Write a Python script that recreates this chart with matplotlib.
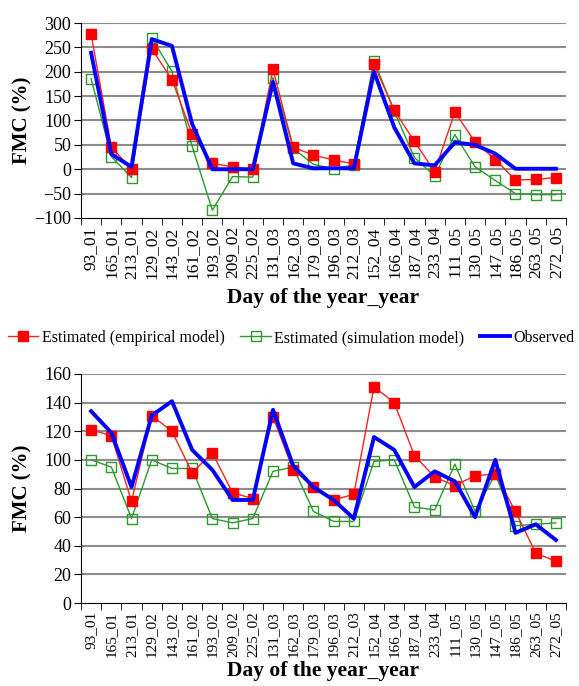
import matplotlib
matplotlib.use('Agg')
import matplotlib.pyplot as plt
import numpy as np
from matplotlib.lines import Line2D

plt.rcParams['font.family'] = ['Liberation Serif', 'DejaVu Serif']

days = ['93_01', '165_01', '213_01', '129_02', '143_02', '161_02', '193_02',
        '209_02', '225_02', '131_03', '162_03', '179_03', '196_03', '212_03',
        '152_04', '166_04', '187_04', '233_04', '111_05', '130_05', '147_05',
        '186_05', '263_05', '272_05']

# top panel
emp_top = [277, 46, 0, 247, 184, 72, 12, 5, 0, 205, 45, 29, 19, 11,
           215, 121, 57, -5, 117, 56, 20, -22, -21, -17]
sim_top = [186, 26, -17, 269, 201, 47, -84, -15, -16, 188, 43, 10, 1, 9,
           223, 119, 24, -14, 71, 5, -23, -50, -52, -52]
obs_top = [239, 31, 5, 267, 253, 93, 0, 0, 0, 179, 12, 2, 2, 2,
           200, 86, 12, 8, 55, 50, 32, 1, 1, 1]

# bottom panel
emp_bot = [121, 117, 71, 131, 120, 91, 105, 77, 73, 130, 93, 81, 72, 76,
           151, 140, 103, 88, 82, 89, 90, 64, 35, 29]
sim_bot = [100, 95, 59, 100, 94, 94, 59, 56, 59, 92, 95, 64, 57, 57,
           99, 100, 67, 65, 97, 64, 90, 54, 55, 56]
obs_bot = [134, 119, 81, 131, 141, 107, 93, 72, 72, 135, 96, 81, 72, 59,
           116, 107, 81, 92, 85, 60, 100, 49, 55, 44]

fig = plt.figure(figsize=(5.79, 6.86), dpi=100)
ax1 = fig.add_axes([81/579, 1-218/686, 485/579, 195/686])
ax2 = fig.add_axes([81/579, 1-603/686, 485/579, 229/686])

x = np.arange(len(days))
grid_c = '#8c8c8c'


def draw(ax, emp, sim, obs, ylim, step, tfs, xlab_y):
    for yv in np.arange(ylim[0] + step, ylim[1] + 0.1, step):
        ax.axhline(yv, color=grid_c, lw=1.5, zorder=0)
    ax.plot(x, emp, '-s', color='#ff2020', lw=1, ms=7.5,
            mfc='#ff0000', mec='#ff0000', zorder=3)
    ax.plot(x, sim, '-s', color='#2a9a2a', lw=1, ms=7.5,
            mfc='none', mec='#2a9a2a', mew=1, zorder=2)
    ax.plot(x, obs, '-', color='#0000ff', lw=2.8, zorder=4)
    ax.set_xlim(-0.5, len(days) - 0.5)
    ax.set_ylim(*ylim)
    ax.set_yticks(np.arange(ylim[0], ylim[1] + 0.1, step))
    ax.set_xticks(x)
    ax.set_xticklabels(days, rotation=90, fontsize=tfs)
    ax.set_xticks(np.arange(-0.5, len(days)), minor=True)
    ax.tick_params(axis='x', which='major', length=0, pad=6)
    ax.tick_params(axis='x', which='minor', length=5, direction='out')
    ax.tick_params(axis='y', length=5, direction='out', labelsize=13, pad=2)
    for s in ['top', 'right']:
        ax.spines[s].set_visible(False)
    ax.set_ylabel('FMC (%)', fontsize=15, fontweight='bold')
    ax.yaxis.set_label_coords(-0.101, 0.5)
    ax.set_xlabel('Day of the year_year', fontsize=15.5, fontweight='bold')
    ax.xaxis.set_label_coords(0.5, xlab_y)


draw(ax1, emp_top, sim_top, obs_top, (-100, 300), 50, 12.5, -0.36)
draw(ax2, emp_bot, sim_bot, obs_bot, (0, 160), 20, 11, -0.255)

handles = [Line2D([], [], color='#ff2020', lw=1, marker='s', ms=7.5,
                  mfc='#ff0000', mec='#ff0000'),
           Line2D([], [], color='#2a9a2a', lw=1, marker='s', ms=7.5,
                  mfc='none', mec='#2a9a2a'),
           Line2D([], [], color='#0000ff', lw=2.8)]
labels = ['Estimated (empirical model)', 'Estimated (simulation model)',
          'Observed']
fig.legend(handles, labels, loc='center left',
           bbox_to_anchor=(8/579, 1-338/686), ncol=3, frameon=False,
           fontsize=11.5, handlelength=1.9, handletextpad=0.2,
           columnspacing=1.0, borderpad=0, borderaxespad=0)

fig.savefig('out.png', dpi=100)
